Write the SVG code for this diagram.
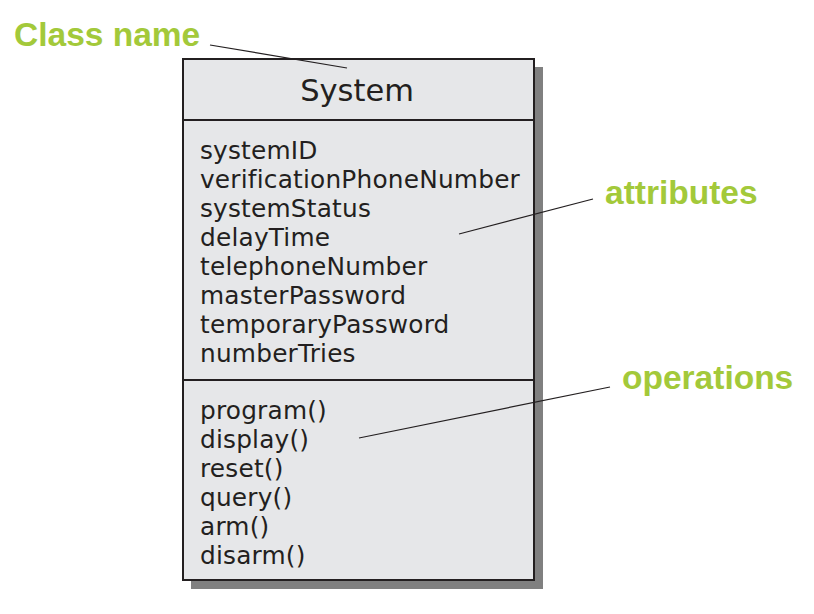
<svg xmlns="http://www.w3.org/2000/svg" width="814" height="614" viewBox="0 0 814 614">
<style>
.lbl{font-family:"Liberation Sans",Arial,sans-serif;font-weight:bold;fill:#a3c93a;font-size:33.5px}
.item{font-family:"DejaVu Sans","Noto Sans",sans-serif;font-size:24.8px;letter-spacing:0.2px;fill:#231f20}
.title{font-family:"DejaVu Sans","Noto Sans",sans-serif;font-size:30.5px;fill:#231f20}
.lead{stroke:#231f20;stroke-width:1.2;fill:none}
</style>
<rect width="814" height="614" fill="#ffffff"/>
<g id="class-system">
<rect x="191" y="67" width="352" height="522" fill="#808080"/>
<rect x="183" y="59" width="351" height="521" fill="#e6e7e9" stroke="#231f20" stroke-width="2"/>
<line x1="183" y1="120" x2="534" y2="120" stroke="#231f20" stroke-width="2"/>
<line x1="183" y1="380" x2="534" y2="380" stroke="#231f20" stroke-width="2"/>
<text x="357" y="101" text-anchor="middle" class="title">System</text>
<text class="item">
<tspan x="200" y="159">systemID</tspan>
<tspan x="200" y="188">verificationPhoneNumber</tspan>
<tspan x="200" y="217">systemStatus</tspan>
<tspan x="200" y="246">delayTime</tspan>
<tspan x="200" y="275">telephoneNumber</tspan>
<tspan x="200" y="304">masterPassword</tspan>
<tspan x="200" y="333">temporaryPassword</tspan>
<tspan x="200" y="362">numberTries</tspan>
</text>
<text class="item">
<tspan x="200" y="419">program()</tspan>
<tspan x="200" y="448">display()</tspan>
<tspan x="200" y="477">reset()</tspan>
<tspan x="200" y="506">query()</tspan>
<tspan x="200" y="535">arm()</tspan>
<tspan x="200" y="564">disarm()</tspan>
</text>
</g>
<g id="label-classname"><text x="14" y="46" class="lbl">Class name</text></g>
<g id="label-attributes"><text x="605" y="204" class="lbl">attributes</text></g>
<g id="label-operations"><text x="622" y="389" class="lbl">operations</text></g>
<g id="connectors">
<line class="lead" x1="210" y1="45" x2="347" y2="68"/>
<line class="lead" x1="459" y1="234" x2="593" y2="199"/>
<line class="lead" x1="359" y1="438" x2="610" y2="387"/>
</g>
</svg>
